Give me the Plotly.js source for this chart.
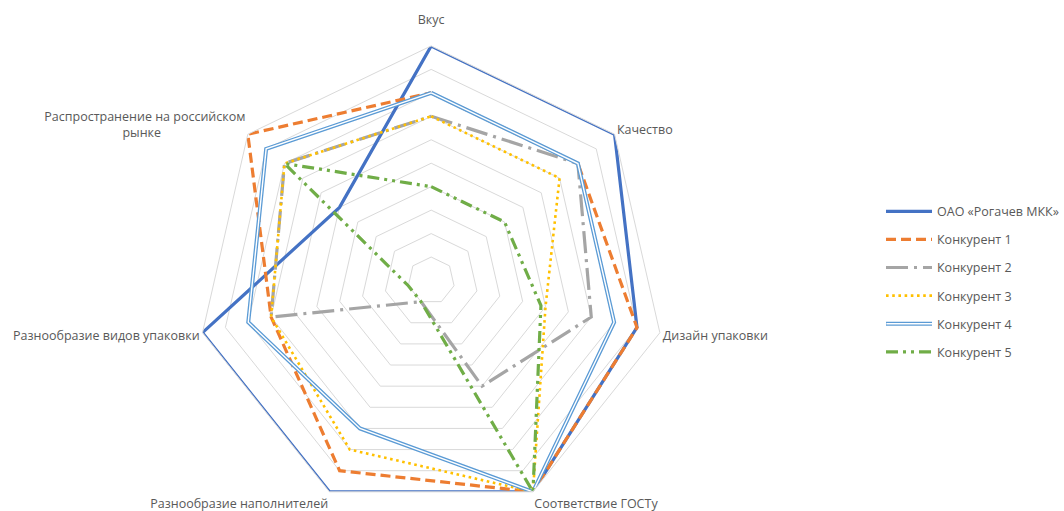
<!DOCTYPE html>
<html>
<head>
<meta charset="utf-8">
<script src="https://cdn.plot.ly/plotly-3.0.1.min.js"></script>
<style>
  html, body { margin: 0; padding: 0; overflow: hidden; background: #ffffff; }
  #chart { width: 1064px; height: 530px; }
</style>
</head>
<body>
<div id="chart"></div>
<script>
// ---- data ----
const categories = [
  "Вкус<br> ",
  "Качество",
  "Дизайн упаковки",
  "Соответствие ГОСТу",
  "Разнообразие наполнителей",
  "Разнообразие видов упаковки",
  "Распространение на российском<br>рынке" + "\u00a0".repeat(26)
];
const seriesNames = [
  "ОАО «Рогачев МКК»",
  "Конкурент 1",
  "Конкурент 2",
  "Конкурент 3",
  "Конкурент 4",
  "Конкурент 5"
];
const rogachev    = [10, 10, 9, 10, 10, 10, 5];
const konkurent1  = [8, 8, 9, 10, 9, 7, 10];
const konkurent2  = [7, 8, 7, 5, 1, 7, 8];
const konkurent3  = [7, 7, 5, 10, 8, 7, 8];
const konkurent4  = [8, 8, 8, 10, 7, 8, 9];
const konkurent5  = [4, 4, 4.8, 10, 1, 1, 8];
const radialTicks = [1, 2, 3, 4, 5, 6, 7, 8, 9, 10];

// ---- helpers ----
function closed(arr) { return arr.concat([arr[0]]); }
const theta = closed(categories);

const W = 1064, H = 530;
const cx = 432, cy = 280.5, R = 235;

function trace(name, values, line, group, showlegend, legend) {
  return {
    type: "scatterpolar",
    mode: "lines",
    name: name,
    r: closed(values),
    theta: theta,
    line: line,
    legendgroup: group,
    showlegend: showlegend,
    legend: legend || "legend",
    hoverinfo: "skip"
  };
}

const data = [
  trace(seriesNames[0], rogachev,   {color: "#4472C4", width: 3.2}, "g0", true),
  trace(seriesNames[1], konkurent1, {color: "#ED7D31", width: 3.2, dash: "10px,5px"}, "g1", true),
  trace(seriesNames[2], konkurent2, {color: "#A5A5A5", width: 3.2, dash: "22px,6px,3px,6px"}, "g2", true),
  trace(seriesNames[3], konkurent3, {color: "#FFC000", width: 2.6, dash: "2.6px,3.6px"}, "g3", true),
  trace(seriesNames[4], konkurent4, {color: "#5B9BD5", width: 4}, "g4", true),
  trace(" ",            konkurent4, {color: "#FFFFFF", width: 1.4}, "g4", true, "legend2"),
  trace(seriesNames[5], konkurent5, {color: "#70AD47", width: 3.2, dash: "12px,5px,3px,5px,3px,5px"}, "g5", true)
];

const labelFont = {family: "Open Sans, Noto Sans, sans-serif", size: 12.5, color: "#595959"};

const legendTop = 196.7;
const legendStep = 28.1;

const layout = {
  width: W,
  height: H,
  margin: {l: 0, r: 0, t: 0, b: 0},
  paper_bgcolor: "#FFFFFF",
  plot_bgcolor: "#FFFFFF",
  showlegend: true,
  polar: {
    domain: {
      x: [(cx - R) / W, (cx + R) / W],
      y: [(H - cy - R) / H, (H - cy + R) / H]
    },
    bgcolor: "rgba(0,0,0,0)",
    gridshape: "linear",
    radialaxis: {
      range: [0, 10],
      tickvals: radialTicks,
      showticklabels: false,
      ticks: "",
      showline: false,
      gridcolor: "#D9D9D9",
      gridwidth: 1
    },
    angularaxis: {
      type: "category",
      categoryarray: categories,
      direction: "clockwise",
      rotation: 90,
      showgrid: false,
      showline: true,
      linecolor: "#D9D9D9",
      linewidth: 1,
      ticks: "",
      tickfont: labelFont
    }
  },
  legend: {
    x: 883 / W,
    xanchor: "left",
    y: (H - legendTop) / H,
    yanchor: "top",
    font: labelFont,
    bgcolor: "rgba(0,0,0,0)",
    itemwidth: 46,
    tracegroupgap: 8.85,
    traceorder: "grouped"
  },
  legend2: {
    x: 883 / W,
    xanchor: "left",
    y: (H - legendTop - 4 * legendStep) / H,
    yanchor: "top",
    font: labelFont,
    bgcolor: "rgba(0,0,0,0)",
    itemwidth: 46
  }
};

Plotly.newPlot("chart", data, layout, {staticPlot: true, displayModeBar: false});
</script>
</body>
</html>
